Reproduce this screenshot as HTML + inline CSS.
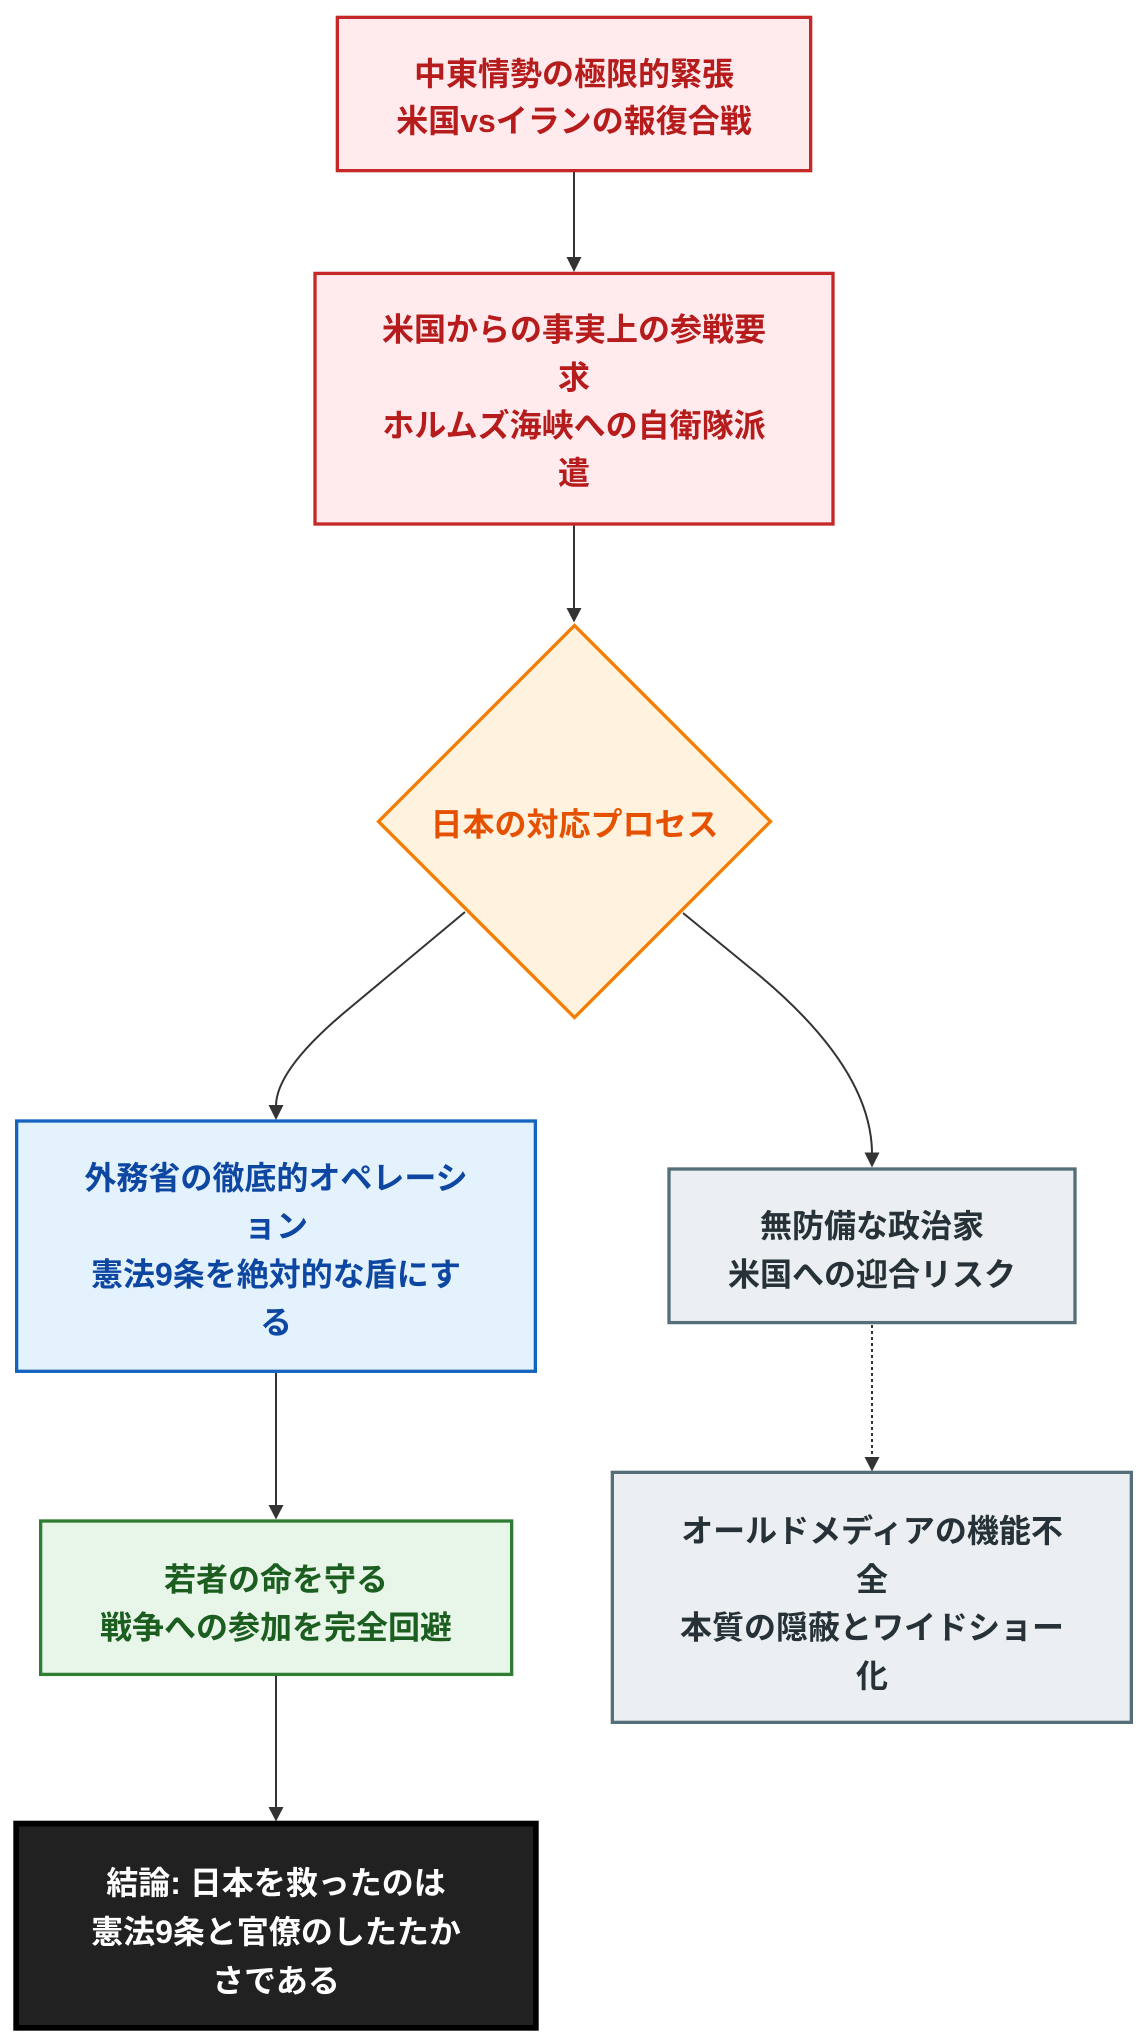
<!DOCTYPE html>
<html lang="ja">
<head>
<meta charset="utf-8">
<style>
  html, body { margin: 0; padding: 0; background: #ffffff; }
  svg { display: block; }
  text {
    font-family: "Liberation Sans", "Noto Sans CJK JP", sans-serif;
    font-weight: 700;
    font-size: 32px;
    text-anchor: middle;
  }
</style>
</head>
<body>
<svg width="1148" height="2044" viewBox="0 0 1148 2044" xmlns="http://www.w3.org/2000/svg">
  <rect x="0" y="0" width="1148" height="2044" fill="#ffffff"/>

  <!-- Edges -->
  <g stroke="#333333" stroke-width="2" fill="none">
    <line x1="574" y1="172" x2="574" y2="259"/>
    <line x1="574" y1="525" x2="574" y2="610"/>
    <path d="M465,912 L345,1012 Q276,1070 276,1106"/>
    <path d="M683,913 L760,976 Q872,1070 872,1154"/>
    <line x1="276" y1="1373" x2="276" y2="1507"/>
    <line x1="276" y1="1676" x2="276" y2="1809"/>
    <line x1="872" y1="1325" x2="872" y2="1459" stroke-dasharray="3,3"/>
  </g>
  <g fill="#333333">
    <polygon points="566.5,257 581.5,257 574,272"/>
    <polygon points="566.5,608 581.5,608 574,622.5"/>
    <polygon points="268.5,1105 283.5,1105 276,1120"/>
    <polygon points="864.5,1152.5 879.5,1152.5 872,1167.5"/>
    <polygon points="268.5,1505 283.5,1505 276,1519.5"/>
    <polygon points="268.5,1807 283.5,1807 276,1821.5"/>
    <polygon points="864.5,1457 879.5,1457 872,1471.5"/>
  </g>

  <!-- Box 1 -->
  <rect x="337.35" y="17.35" width="473.3" height="153.3" fill="#FFEBEE" stroke="#C62828" stroke-width="3.3"/>
  <g fill="#B71C1C">
    <text x="574" y="85">中東情勢の極限的緊張</text>
    <text x="574" y="132">米国vsイランの報復合戦</text>
  </g>

  <!-- Box 2 -->
  <rect x="315" y="273.4" width="518" height="250.6" fill="#FFEBEE" stroke="#C62828" stroke-width="3.3"/>
  <g fill="#B71C1C">
    <text x="574" y="340.5">米国からの事実上の参戦要</text>
    <text x="574" y="388.5">求</text>
    <text x="574" y="436.5">ホルムズ海峡への自衛隊派</text>
    <text x="574" y="484">遣</text>
  </g>

  <!-- Diamond -->
  <polygon points="574.5,625.5 770.5,821.5 574.5,1017.5 378.5,821.5" fill="#FFF3E0" stroke="#F57C00" stroke-width="3.3"/>
  <text x="574.5" y="835.5" fill="#E65100">日本の対応プロセス</text>

  <!-- Left blue box -->
  <rect x="16.65" y="1121" width="518.7" height="250.3" fill="#E3F2FD" stroke="#1565C0" stroke-width="3.3"/>
  <g fill="#0D47A1">
    <text x="276" y="1189">外務省の徹底的オペレーシ</text>
    <text x="276" y="1237">ョン</text>
    <text x="276" y="1285.5">憲法9条を絶対的な盾にす</text>
    <text x="276" y="1333.5">る</text>
  </g>

  <!-- Right gray box 1 -->
  <rect x="669" y="1169" width="406" height="153.6" fill="#ECEFF1" stroke="#546E7A" stroke-width="3.3"/>
  <g fill="#263238">
    <text x="872" y="1237">無防備な政治家</text>
    <text x="872" y="1285.5">米国への迎合リスク</text>
  </g>

  <!-- Green box -->
  <rect x="40.65" y="1521" width="471" height="153.4" fill="#E8F5E9" stroke="#2E7D32" stroke-width="3.3"/>
  <g fill="#1B5E20">
    <text x="276" y="1590.5">若者の命を守る</text>
    <text x="276" y="1638.5">戦争への参加を完全回避</text>
  </g>

  <!-- Right gray box 2 -->
  <rect x="612.35" y="1472.35" width="519" height="250" fill="#ECEFF1" stroke="#546E7A" stroke-width="3.3"/>
  <g fill="#263238">
    <text x="872" y="1542">オールドメディアの機能不</text>
    <text x="872" y="1590.5">全</text>
    <text x="872" y="1638.5">本質の隠蔽とワイドショー</text>
    <text x="872" y="1687">化</text>
  </g>

  <!-- Black box -->
  <rect x="16.15" y="1823.55" width="519.7" height="204.3" fill="#212121" stroke="#000000" stroke-width="5.7"/>
  <g fill="#ffffff">
    <text x="276" y="1894">結論: 日本を救ったのは</text>
    <text x="276" y="1943">憲法9条と官僚のしたたか</text>
    <text x="276" y="1992">さである</text>
  </g>
</svg>
</body>
</html>
